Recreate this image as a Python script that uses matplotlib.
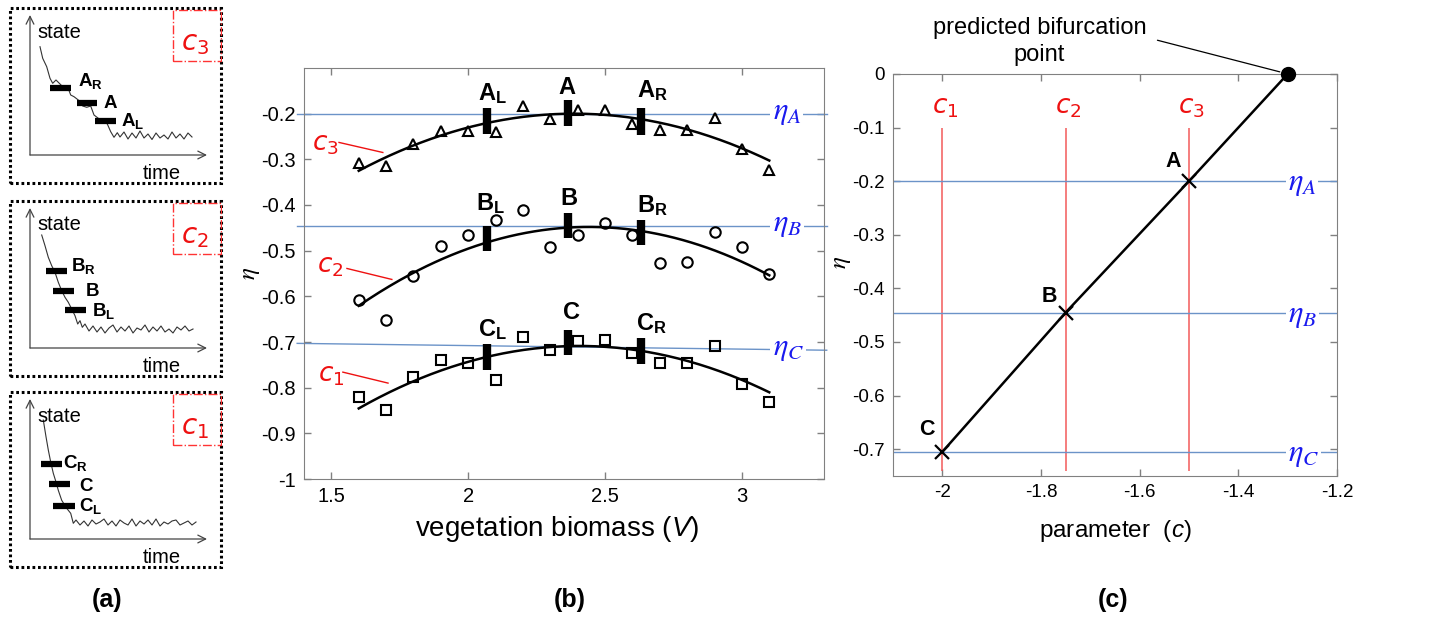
import numpy as np
import matplotlib
matplotlib.use("Agg")
import matplotlib.pyplot as plt
from matplotlib.patches import Rectangle
from matplotlib.ticker import FuncFormatter

plt.rcParams['font.family'] = ['Liberation Sans', 'DejaVu Sans']
plt.rcParams['mathtext.fontset'] = 'custom'
plt.rcParams['mathtext.rm'] = 'Liberation Sans'
plt.rcParams['mathtext.bf'] = 'Liberation Sans:bold'
plt.rcParams['mathtext.it'] = 'Liberation Sans:italic'
plt.rcParams['axes.unicode_minus'] = False

# ---- panel (b): eta against vegetation biomass ----
biomass = [1.6, 1.7, 1.8, 1.9, 2.0, 2.1, 2.2, 2.3, 2.4, 2.5, 2.6, 2.7, 2.8, 2.9, 3.0, 3.1]
eta_c3 = [-0.308, -0.315, -0.267, -0.238, -0.239, -0.240, -0.184, -0.211,
          -0.193, -0.193, -0.222, -0.235, -0.235, -0.210, -0.277, -0.324]
eta_c2 = [-0.608, -0.651, -0.556, -0.489, -0.465, -0.433, -0.412, -0.493,
          -0.466, -0.439, -0.466, -0.527, -0.524, -0.460, -0.492, -0.550]
eta_c1 = [-0.821, -0.849, -0.776, -0.740, -0.747, -0.784, -0.690, -0.718,
          -0.698, -0.696, -0.723, -0.747, -0.745, -0.708, -0.792, -0.831]

# window markers (L, centre, R) for each level
win_x = [2.067, 2.365, 2.632]
win_lo_A = [-0.245, -0.228, -0.247]
win_hi_A = [-0.188, -0.171, -0.188]
win_lo_B = [-0.501, -0.472, -0.488]
win_hi_B = [-0.447, -0.417, -0.432]
win_lo_C = [-0.762, -0.729, -0.749]
win_hi_C = [-0.705, -0.673, -0.691]

eta_A = -0.2
eta_B = -0.445
eta_C_left, eta_C_right = -0.703, -0.718

# ---- panel (c): eta against parameter c ----
param_c = [-2.0, -1.75, -1.5]
eta_at_c = [-0.705, -0.445, -0.2]
bif_c, bif_eta = -1.3, 0.0

# ---- panel (a): sketched state time series ----
state_t_A = [10, 12.7, 16.7, 20, 22.7, 26, 29.3, 33.3, 37.3, 40.7, 44, 48.3, 52.7, 56.7,
             60.7, 64, 68.3, 73.3, 77.3, 80.7, 84, 87.3,
             90, 94, 98, 102, 106, 110, 114, 118, 122, 126, 130, 134, 138, 142, 146, 150,
             154, 158, 162]
state_s_A = [108.3, 96.7, 88.3, 76.7, 71.7, 75, 71.7, 67.7, 69, 60, 58.3, 55, 49, 47.7,
             49, 40, 36.7, 34.3, 31, 23.3, 17.7, 22.3,
             18, 23, 16, 22, 17, 24, 17, 21, 15.5, 22, 17, 20, 16, 23, 17, 21, 16, 22, 18]
state_t_B = [11.7, 15, 18.3, 21.7, 25, 28.3, 31.7, 35, 38.3, 41.7, 45, 47.7, 50, 52.3,
             55, 59, 63, 67, 71, 75, 79, 83, 87, 91, 95, 99, 103, 107, 111, 115, 119, 123,
             127, 131, 135, 139, 143, 147, 151, 155, 159, 163]
state_s_B = [113, 102.3, 90.7, 82.3, 75.7, 65.7, 57.3, 50.7, 45.7, 39, 32.3, 24, 27.3, 20.7,
             24, 17, 22, 16, 21, 15, 20, 23, 16, 21, 17, 22, 15, 20, 18, 23, 16, 21,
             17, 22, 16, 19, 15, 21, 18, 22, 17, 19]
state_t_C = [13.3, 16, 18.3, 20.7, 23.3, 26, 28.3, 31.7, 36.7, 40.7, 43.3,
             46, 50, 54, 58, 62, 66, 70, 74, 78, 82, 86, 90, 94, 98, 102, 106, 110, 114,
             118, 122, 126, 130, 134, 138, 142, 146, 150, 154, 158, 162, 166]
state_s_C = [119, 102.3, 89, 77, 65.7, 57, 48.7, 38.7, 30.7, 25.7, 15.7,
             19, 14, 18, 13, 19, 15, 17, 20, 14, 18, 13, 19, 16, 14, 20, 13, 18, 15,
             19, 14, 20, 13, 17, 15, 18, 19, 14, 16, 18, 14, 17]

bars_t0_A, bars_t1_A, bars_s_A = [20, 46.7, 65], [41, 67.3, 85.7], [67.3, 52.3, 34.3]
bars_t0_B, bars_t1_B, bars_s_B = [16, 23.3, 35], [37.3, 44, 55.7], [77, 57.3, 38]
bars_t0_C, bars_t1_C, bars_s_C = [11, 19, 23.3], [31.7, 40, 45], [75, 55, 33.3]

BLUE_LINE = '#6b93c8'
BLUE_TXT = '#1a1aee'
RED = '#ee1111'
GREY = '#808080'
fmt = FuncFormatter(lambda v, p: f'{v:g}')


def style_axes(ax, labelsize):
    for sp in ax.spines.values():
        sp.set_color(GREY)
    ax.tick_params(direction='in', top=True, right=True, length=5, width=1,
                   color=GREY, labelsize=labelsize, pad=6)
    ax.xaxis.set_major_formatter(fmt)
    ax.yaxis.set_major_formatter(fmt)


def draw_state_box(rect, t, s, t0, t1, sb, labels, ctag):
    ax = fig.add_axes(rect)
    ax.set_xlim(-21, 192)
    ax.set_ylim(-29, 148)
    ax.set_axis_off()
    # dotted frame
    ax.add_patch(Rectangle((0.004, 0.006), 0.992, 0.988, transform=ax.transAxes,
                           fill=False, ec='black', lw=2.2, ls=(0, (0.9, 0.9)),
                           clip_on=False))
    ax.annotate('', xy=(0, 140), xytext=(0, 0),
                arrowprops=dict(arrowstyle='->', lw=0.9, color='#444444',
                                shrinkA=0, shrinkB=0, mutation_scale=14))
    ax.annotate('', xy=(177, 0), xytext=(0, 0),
                arrowprops=dict(arrowstyle='->', lw=0.9, color='#444444',
                                shrinkA=0, shrinkB=0, mutation_scale=14))
    ax.text(7.5, 123, 'state', fontsize=14.5, ha='left', va='center')
    ax.text(113, -18.5, 'time', fontsize=14.5, ha='left', va='center')
    ax.plot(t, s, color='#333333', lw=0.8)
    ax.hlines(sb, t0, t1, color='black', lw=4.5)
    for txt, x, y in labels:
        ax.text(x, y, txt, fontsize=13.5, ha='left', va='baseline')
    ax.add_patch(Rectangle((143, 94), 48, 51, fill=False, ec='#ff3333',
                           lw=1, ls='-.'))
    ax.text(165, 111, ctag, color=RED, fontsize=20, ha='center', va='center',
            math_fontfamily='dejavusans')


fig = plt.figure(figsize=(14.43, 6.19), dpi=100)

# ---------------- panel (a) ----------------
bw, bh = 213 / 1443, 177 / 619
draw_state_box([9 / 1443, 435 / 619, bw, bh], state_t_A, state_s_A,
               bars_t0_A, bars_t1_A, bars_s_A,
               [(r'$\mathbf{A_R}$', 48.3, 69), (r'$\mathbf{A}$', 73.3, 46.7),
                (r'$\mathbf{A_L}$', 90.7, 29)], r'$c_3$')
draw_state_box([9 / 1443, 242 / 619, bw, bh], state_t_B, state_s_B,
               bars_t0_B, bars_t1_B, bars_s_B,
               [(r'$\mathbf{B_R}$', 41, 77.3), (r'$\mathbf{B}$', 55, 52.3),
                (r'$\mathbf{B_L}$', 62.3, 31.7)], r'$c_2$')
draw_state_box([9 / 1443, 51 / 619, bw, bh], state_t_C, state_s_C,
               bars_t0_C, bars_t1_C, bars_s_C,
               [(r'$\mathbf{C_R}$', 33.3, 70.7), (r'$\mathbf{C}$', 49, 48.3),
                (r'$\mathbf{C_L}$', 49, 28.3)], r'$c_1$')

# ---------------- panel (b) ----------------
axb = fig.add_axes([304 / 1443, 140 / 619, 520 / 1443, 411 / 619])
axb.set_xlim(1.4, 3.3)
axb.set_ylim(-1, -0.1)
axb.set_xticks([1.5, 2, 2.5, 3])
axb.set_yticks([-1, -0.9, -0.8, -0.7, -0.6, -0.5, -0.4, -0.3, -0.2])
style_axes(axb, 14.5)

xs = np.linspace(biomass[0], biomass[-1], 200)
for vals, mk, ms in [(eta_c3, '^', 7.5), (eta_c2, 'o', 7.5), (eta_c1, 's', 6.5)]:
    axb.plot(biomass, vals, mk, mfc='none', mec='black', ms=ms, mew=1.5, zorder=4)
    coef = np.polyfit(biomass, vals, 2)
    axb.plot(xs, np.polyval(coef, xs), color='black', lw=1.8, zorder=3)

for lo, hi in [(win_lo_A, win_hi_A), (win_lo_B, win_hi_B), (win_lo_C, win_hi_C)]:
    axb.vlines(win_x, lo, hi, color='black', lw=6, zorder=5)

x_line = [1.375, 3.31]
axb.plot(x_line, [eta_A, eta_A], color=BLUE_LINE, lw=1, clip_on=False, zorder=2)
axb.plot(x_line, [eta_B, eta_B], color=BLUE_LINE, lw=1, clip_on=False, zorder=2)
axb.plot(x_line, [eta_C_left, eta_C_right], color=BLUE_LINE, lw=1, clip_on=False, zorder=2)
for lab, yv in [(r'$\eta_A$', eta_A), (r'$\eta_B$', eta_B), (r'$\eta_C$', eta_C_right)]:
    axb.text(3.112, yv + 0.004, lab, color=BLUE_TXT, fontsize=22, ha='left',
             va='center', math_fontfamily='stix', zorder=6,
             bbox=dict(fc='white', ec='none', pad=1.5))

bold_b = [(r'$\mathbf{A_L}$', 2.035, -0.171, 'left'), (r'$\mathbf{A}$', 2.36, -0.156, 'center'),
          (r'$\mathbf{A_R}$', 2.615, -0.164, 'left'),
          (r'$\mathbf{B_L}$', 2.03, -0.412, 'left'), (r'$\mathbf{B}$', 2.367, -0.401, 'center'),
          (r'$\mathbf{B_R}$', 2.615, -0.416, 'left'),
          (r'$\mathbf{C_L}$', 2.035, -0.687, 'left'), (r'$\mathbf{C}$', 2.377, -0.650, 'center'),
          (r'$\mathbf{C_R}$', 2.612, -0.675, 'left')]
for txt, x, y, ha in bold_b:
    axb.text(x, y, txt, fontsize=17, ha=ha, va='baseline', zorder=6)

for lab, tx, ty, x0, y0, x1, y1 in [(r'$c_3$', 1.429, -0.280, 1.528, -0.263, 1.688, -0.285),
                                    (r'$c_2$', 1.447, -0.547, 1.557, -0.539, 1.721, -0.563),
                                    (r'$c_1$', 1.451, -0.787, 1.542, -0.766, 1.707, -0.790)]:
    axb.text(tx, ty, lab, color=RED, fontsize=19, ha='left', va='baseline',
             math_fontfamily='dejavusans')
    axb.plot([x0, x1], [y0, y1], color=RED, lw=1)

axb.set_ylabel(r'$\eta$', fontsize=18, math_fontfamily='stix', rotation=90)
axb.yaxis.set_label_coords(-0.08, 0.5)
axb.set_xlabel(r'vegetation biomass ($V$)', fontsize=20)
axb.xaxis.set_label_coords(0.487, -0.085)

# ---------------- panel (c) ----------------
axc = fig.add_axes([893 / 1443, 143 / 619, 444 / 1443, 402 / 619])
axc.set_xlim(-2.1, -1.2)
axc.set_ylim(-0.75, 0)
axc.set_xticks([-2, -1.8, -1.6, -1.4, -1.2])
axc.set_yticks([-0.7, -0.6, -0.5, -0.4, -0.3, -0.2, -0.1, 0])
style_axes(axc, 13.5)

axc.vlines(param_c, -0.74, -0.1, color='#f25a5a', lw=1.1, zorder=2)
axc.hlines(eta_at_c, -2.1, -1.2, color=BLUE_LINE, lw=1, zorder=2)
for lab, yv in zip([r'$\eta_C$', r'$\eta_B$', r'$\eta_A$'], eta_at_c):
    axc.text(-1.30, yv - 0.004, lab, color=BLUE_TXT, fontsize=22, ha='left',
             va='center', math_fontfamily='stix', zorder=6,
             bbox=dict(fc='white', ec='none', pad=1.5))
for lab, xv in zip([r'$c_1$', r'$c_2$', r'$c_3$'], param_c):
    axc.text(xv + 0.005, -0.073, lab, color=RED, fontsize=19, ha='center',
             va='baseline', math_fontfamily='dejavusans')

axc.plot(param_c + [bif_c], eta_at_c + [bif_eta], color='black', lw=1.8, zorder=3)
axc.plot(param_c, eta_at_c, 'x', color='black', ms=10, mew=1.6, zorder=4)
axc.plot([bif_c], [bif_eta], 'o', color='black', ms=10, clip_on=False, zorder=5)

for txt, x, y in [('A', -1.531, -0.173), ('B', -1.783, -0.426), ('C', -2.031, -0.674)]:
    axc.text(x, y, txt, fontsize=15.5, fontweight='bold', ha='center', va='baseline')

axc.annotate('', xy=(-1.316, 0.004), xytext=(-1.564, 0.063), annotation_clip=False,
             arrowprops=dict(arrowstyle='-', lw=0.9, color='black', shrinkA=0, shrinkB=0))
axc.text(-1.803, 0.061, 'predicted bifurcation\npoint', fontsize=17, ha='center',
         va='center', linespacing=1.3, clip_on=False)

axc.set_ylabel(r'$\eta$', fontsize=18, math_fontfamily='stix', rotation=90)
axc.yaxis.set_label_coords(-0.09, 0.53)
axc.set_xlabel(r'parameter  ($c$)', fontsize=17.5)
axc.xaxis.set_label_coords(0.5, -0.105)

# panel letters
for txt, x in [('(a)', 107), ('(b)', 570), ('(c)', 1113)]:
    fig.text(x / 1443, 19 / 619, txt, fontsize=18, fontweight='bold',
             ha='center', va='center')

fig.savefig('out.png', dpi=100)
